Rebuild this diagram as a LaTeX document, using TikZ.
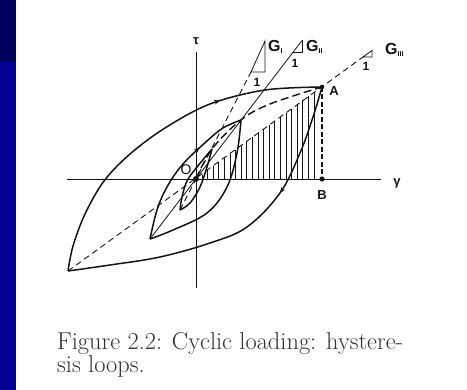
\documentclass[tikz,border=0pt]{standalone}
\usepackage{fontspec}
\newfontfamily\lab{Liberation Sans}
\usetikzlibrary{decorations.markings,arrows.meta}
\definecolor{navyA}{RGB}{0,0,92}
\definecolor{navyB}{RGB}{0,0,146}
\definecolor{ink}{RGB}{20,20,20}
\begin{document}
\begin{tikzpicture}[x=1pt,y=-1pt,
  loopline/.style={ink,line width=1.5pt,line join=round},
  axisline/.style={ink,line width=0.9pt},
  secant/.style={ink,line width=0.8pt},
  secantdash/.style={ink,line width=0.9pt,dash pattern=on 6pt off 4pt},
  backbone/.style={ink,line width=1.4pt,dash pattern=on 8pt off 4pt},
  drop/.style={ink,line width=1.4pt,dash pattern=on 5pt off 2.5pt},
  hatchline/.style={ink,line width=0.9pt},
  lbl/.style={ink,inner sep=0pt,font=\lab\bfseries\fontsize{13}{13}\selectfont},
  glbl/.style={ink,inner sep=0pt,font=\lab\bfseries\fontsize{16}{16}\selectfont},
  onelbl/.style={ink,inner sep=0pt,font=\lab\bfseries\fontsize{12}{12}\selectfont},
  captext/.style={inner sep=0pt,anchor=base west,font=\fontsize{24.4}{26}\selectfont,text=black!80},
  arrowfwd/.style={postaction={decorate},decoration={markings,
     mark=at position #1 with {\arrow{Stealth[length=6pt,width=4.5pt]}}}},
  arrowrev/.style={postaction={decorate},decoration={markings,
     mark=at position #1 with {\arrowreversed{Stealth[length=6pt,width=4.5pt]}}}}
]
\useasboundingbox (0,0) rectangle (467,390);
\fill[white] (0,0) rectangle (467,390);
\fill[navyB] (0,0) rectangle (15.5,390);
\fill[navyA] (0,0) rectangle (15.5,62);

% key points
\coordinate (O) at (196,179);
\coordinate (A) at (322,87);
\coordinate (B) at (322,179);
\coordinate (L3) at (68,271);
\coordinate (L2) at (150,239);
\coordinate (R2) at (241,120);
\coordinate (L1) at (180,210);
\coordinate (R1) at (212,149);
\coordinate (xl) at (67,179);
\coordinate (xr) at (381,179);
\coordinate (yt) at (196,52);
\coordinate (yb) at (196,288);

% hatching under O-A
\foreach \x in {202,207.6,...,319}
  \draw[hatchline] (\x,179) -- (\x,{179-0.736*(\x-196)});

% axes
\draw[axisline] (xl) -- (xr);
\draw[axisline] (yt) -- (yb);

% secant G_III
\coordinate (g3a) at (363,57);
\coordinate (g3b) at (372,57);
\coordinate (g3c) at (372,50.4);
\draw[secantdash] (L3) -- (g3a);
\draw[secant] (g3a) -- (g3b) -- (g3c) -- cycle;

% secant G_II
\coordinate (g2a) at (293,52);
\coordinate (g2b) at (302,52);
\coordinate (g2c) at (302,40.5);
\draw[secant] (L2) -- (g2c);
\draw[secant] (g2a) -- (g2b) -- (g2c);

% secant G_I
\coordinate (g1a) at (251,72);
\coordinate (g1b) at (265,72);
\coordinate (g1c) at (265,41);
\draw[secantdash] (L1) -- (g1a);
\draw[secant] (g1a) -- (g1b) -- (g1c) -- cycle;

% backbone curve
\draw[backbone] plot[smooth,tension=0.6] coordinates {(O) (R1) (R2) (270,104) (A)};

% vertical dashed A-B
\draw[drop] (A) -- (B);

% big loop
\draw[loopline,arrowfwd=0.7] plot[smooth,tension=0.55] coordinates
  {(L3) (73,246) (85,214) (104,181) (130,154) (165,128) (210,104) (265,90) (A)};
\draw[loopline,arrowrev=0.67] plot[smooth,tension=0.6] coordinates
  {(L3) (110,265) (160,257) (210,243) (247,227) (280,193) (300,153) (313,117) (A)};

% middle loop
\draw[loopline,arrowfwd=0.68] plot[smooth,tension=0.6] coordinates
  {(L2) (157,210) (167,187) (183,164) (207,141) (223,128) (R2)};
\draw[loopline] plot[smooth,tension=0.6] coordinates
  {(L2) (173,230) (207,213) (227,187) (237,153) (R2)};

% small loop
\draw[loopline] plot[smooth,tension=0.6] coordinates
  {(L1) (182,197) (187,181) (197,167) (R1)};
\draw[loopline] plot[smooth,tension=0.6] coordinates
  {(L1) (190,203) (200,187) (207,167) (R1)};

% points
\fill[ink] (O) circle (3);
\fill[ink] (A) circle (2.3);
\fill[ink] (B) circle (2.6);

% labels
\node[lbl] (tau) at (196,41) {τ};
\node[lbl] (gam) at (397,183) {γ};
\node[lbl] (Alab) at (334,91) {A};
\node[lbl] (Blab) at (322,195) {B};
\node[lbl,font=\lab\fontsize{14}{14}\selectfont] (Olab) at (186,170) {O};
\node[glbl,anchor=west] (G1) at (268,47) {G\raisebox{-2pt}{\fontsize{7}{7}\selectfont I}};
\node[glbl,anchor=west] (G2) at (306,47) {G\raisebox{-2pt}{\fontsize{7}{7}\selectfont II}};
\node[glbl,anchor=west] (G3) at (385,50) {G\raisebox{-2pt}{\fontsize{7}{7}\selectfont III}};
\node[onelbl] (one1) at (257,82) {1};
\node[onelbl] (one2) at (295,63) {1};
\node[onelbl] (one3) at (366,66) {1};

% caption
\node[captext] (cap1) at (57,349.5) {Figure 2.2: Cyclic loading: hystere-};
\node[captext] (cap2) at (57,373) {sis loops.};
\end{tikzpicture}
\end{document}
